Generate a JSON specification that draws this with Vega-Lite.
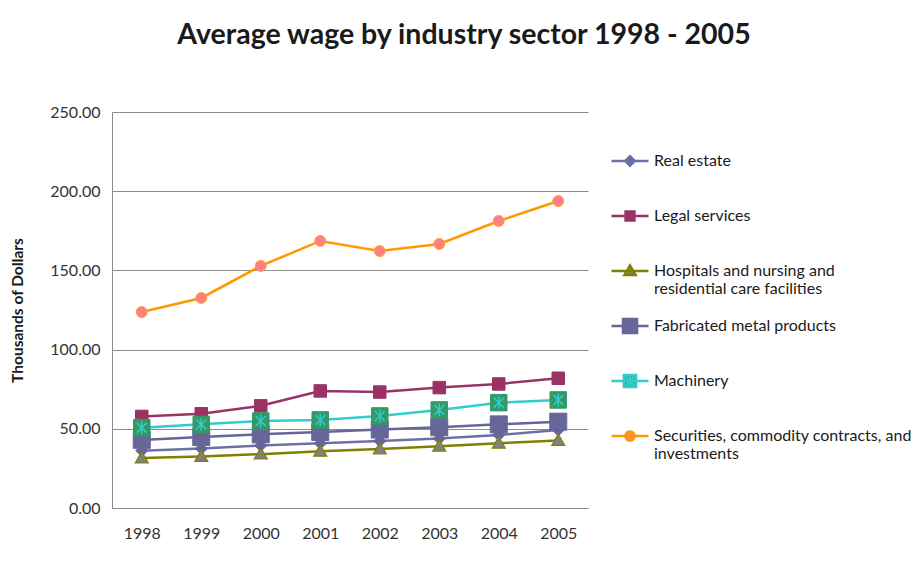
{
  "$schema": "https://vega.github.io/schema/vega-lite/v6.json",
  "autosize": {"type": "none"},
  "width": 476,
  "height": 396,
  "padding": {"left": 112, "top": 112, "right": 334, "bottom": 56},
  "background": "white",
  "title": {
    "text": "Average wage by industry sector 1998 - 2005",
    "font": "Lato",
    "fontSize": 28.5,
    "fontWeight": "bold",
    "color": "#1a1a1a",
    "anchor": "middle",
    "dx": 114,
    "baseline": "alphabetic",
    "offset": 32
  },
  "data": {
    "values": [
      {"year": "1998", "series": "Real estate", "value": 36.2},
      {"year": "1999", "series": "Real estate", "value": 37.5},
      {"year": "2000", "series": "Real estate", "value": 39.4},
      {"year": "2001", "series": "Real estate", "value": 40.8},
      {"year": "2002", "series": "Real estate", "value": 42.3},
      {"year": "2003", "series": "Real estate", "value": 43.8},
      {"year": "2004", "series": "Real estate", "value": 46.1},
      {"year": "2005", "series": "Real estate", "value": 49.2},
      {"year": "1998", "series": "Legal services", "value": 57.8},
      {"year": "1999", "series": "Legal services", "value": 59.5},
      {"year": "2000", "series": "Legal services", "value": 64.5},
      {"year": "2001", "series": "Legal services", "value": 73.9},
      {"year": "2002", "series": "Legal services", "value": 73.2},
      {"year": "2003", "series": "Legal services", "value": 76.0},
      {"year": "2004", "series": "Legal services", "value": 78.3},
      {"year": "2005", "series": "Legal services", "value": 81.9},
      {"year": "1998", "series": "Hospitals and nursing and residential care facilities", "value": 31.5},
      {"year": "1999", "series": "Hospitals and nursing and residential care facilities", "value": 32.5},
      {"year": "2000", "series": "Hospitals and nursing and residential care facilities", "value": 34.0},
      {"year": "2001", "series": "Hospitals and nursing and residential care facilities", "value": 35.8},
      {"year": "2002", "series": "Hospitals and nursing and residential care facilities", "value": 37.3},
      {"year": "2003", "series": "Hospitals and nursing and residential care facilities", "value": 39.0},
      {"year": "2004", "series": "Hospitals and nursing and residential care facilities", "value": 40.9},
      {"year": "2005", "series": "Hospitals and nursing and residential care facilities", "value": 42.6},
      {"year": "1998", "series": "Fabricated metal products", "value": 43.0},
      {"year": "1999", "series": "Fabricated metal products", "value": 44.8},
      {"year": "2000", "series": "Fabricated metal products", "value": 46.5},
      {"year": "2001", "series": "Fabricated metal products", "value": 48.0},
      {"year": "2002", "series": "Fabricated metal products", "value": 49.5},
      {"year": "2003", "series": "Fabricated metal products", "value": 51.0},
      {"year": "2004", "series": "Fabricated metal products", "value": 52.8},
      {"year": "2005", "series": "Fabricated metal products", "value": 54.5},
      {"year": "1998", "series": "Machinery", "value": 50.7},
      {"year": "1999", "series": "Machinery", "value": 52.8},
      {"year": "2000", "series": "Machinery", "value": 54.9},
      {"year": "2001", "series": "Machinery", "value": 55.6},
      {"year": "2002", "series": "Machinery", "value": 58.1},
      {"year": "2003", "series": "Machinery", "value": 61.9},
      {"year": "2004", "series": "Machinery", "value": 66.5},
      {"year": "2005", "series": "Machinery", "value": 68.2},
      {"year": "1998", "series": "Securities, commodity contracts, and investments", "value": 123.7},
      {"year": "1999", "series": "Securities, commodity contracts, and investments", "value": 132.6},
      {"year": "2000", "series": "Securities, commodity contracts, and investments", "value": 152.8},
      {"year": "2001", "series": "Securities, commodity contracts, and investments", "value": 168.6},
      {"year": "2002", "series": "Securities, commodity contracts, and investments", "value": 162.2},
      {"year": "2003", "series": "Securities, commodity contracts, and investments", "value": 166.7},
      {"year": "2004", "series": "Securities, commodity contracts, and investments", "value": 181.2},
      {"year": "2005", "series": "Securities, commodity contracts, and investments", "value": 193.8}
    ]
  },
  "encoding": {
    "x": {
      "field": "year", "type": "ordinal",
      "scale": {"type": "point", "padding": 0.5},
      "axis": {"title": null, "labelAngle": 0, "ticks": false, "domainColor": "#8c8c8c", "labelPadding": 17, "labelFont": "Lato", "labelFontSize": 16, "labelColor": "#333333"}
    },
    "y": {
      "field": "value", "type": "quantitative",
      "scale": {"domain": [0, 250], "nice": false},
      "axis": {"title": "Thousands of Dollars", "values": [0, 50, 100, 150, 200, 250], "format": ".2f", "ticks": false, "grid": true, "gridColor": "#8c8c8c", "domainColor": "#8c8c8c", "labelPadding": 12, "labelFont": "Lato", "labelFontSize": 16, "labelColor": "#333333", "titleFont": "Lato", "titleFontSize": 15.5, "titleFontWeight": "bold", "titleColor": "#1a1a1a", "titlePadding": 24}
    }
  },
  "layer": [
    {
      "transform": [{"filter": "datum.series == 'Real estate'"}],
      "mark": {"type": "line", "strokeWidth": 2.5, "stroke": "#6f6fa8"},
      "encoding": {}
    },
    {
      "transform": [{"filter": "datum.series == 'Real estate'"}],
      "mark": {"type": "point", "shape": "M0,-1L1,0L0,1L-1,0Z", "size": 144, "filled": true, "fill": "#666699", "stroke": "#666699", "strokeWidth": 1, "opacity": 1}
    },
    {
      "transform": [{"filter": "datum.series == 'Legal services'"}],
      "mark": {"type": "line", "strokeWidth": 2.5, "stroke": "#993366"},
      "encoding": {}
    },
    {
      "transform": [{"filter": "datum.series == 'Legal services'"}],
      "mark": {"type": "point", "shape": "square", "size": 156, "filled": true, "fill": "#993366", "stroke": "#993366", "strokeWidth": 1, "opacity": 1}
    },
    {
      "transform": [{"filter": "datum.series == 'Hospitals and nursing and residential care facilities'"}],
      "mark": {"type": "line", "strokeWidth": 2.5, "stroke": "#808000"},
      "encoding": {}
    },
    {
      "transform": [{"filter": "datum.series == 'Hospitals and nursing and residential care facilities'"}],
      "mark": {"type": "point", "shape": "M0,-1L1,0.75L-1,0.75Z", "size": 169, "filled": true, "fill": "#808080", "stroke": "#808000", "strokeWidth": 1.2, "opacity": 1}
    },
    {
      "transform": [{"filter": "datum.series == 'Fabricated metal products'"}],
      "mark": {"type": "line", "strokeWidth": 2.5, "stroke": "#666699"},
      "encoding": {}
    },
    {
      "transform": [{"filter": "datum.series == 'Fabricated metal products'"}],
      "mark": {"type": "point", "shape": "square", "size": 289, "filled": true, "fill": "#666699", "stroke": "#666699", "strokeWidth": 1, "opacity": 1}
    },
    {
      "transform": [{"filter": "datum.series == 'Machinery'"}],
      "mark": {"type": "line", "strokeWidth": 2.5, "stroke": "#33cccc"},
      "encoding": {}
    },
    {
      "transform": [{"filter": "datum.series == 'Machinery'"}],
      "mark": {"type": "point", "shape": "square", "size": 272, "filled": true, "fill": "#339966", "stroke": "#339966", "strokeWidth": 1, "opacity": 1}
    },
    {
      "transform": [{"filter": "datum.series == 'Machinery'"}],
      "mark": {"type": "point", "shape": "M-0.6,-0.6L0.6,0.6M0.6,-0.6L-0.6,0.6M0,-0.78L0,0.78", "size": 272, "filled": false, "stroke": "#33cccc", "strokeWidth": 1.5, "opacity": 1}
    },
    {
      "transform": [{"filter": "datum.series == 'Securities, commodity contracts, and investments'"}],
      "mark": {"type": "line", "strokeWidth": 2.5, "stroke": "#ff9900"},
      "encoding": {}
    },
    {
      "transform": [{"filter": "datum.series == 'Securities, commodity contracts, and investments'"}],
      "mark": {"type": "point", "shape": "circle", "size": 121, "filled": true, "fill": "#ff8080", "stroke": "#ffa040", "strokeWidth": 1, "opacity": 1}
    },
    {
      "mark": {"type": "point", "filled": true, "opacity": 0},
      "encoding": {
        "shape": {
          "field": "series", "type": "nominal",
          "scale": {
            "domain": ["Real estate", "Legal services", "Hospitals and nursing and residential care facilities", "Fabricated metal products", "Machinery", "Securities, commodity contracts, and investments"],
            "range": [
              "M-1,0H1M0,-0.26L0.26,0L0,0.26L-0.26,0Z",
              "M-1,0H1M-0.24,-0.24H0.24V0.24H-0.24Z",
              "M-1,0H1M0,-0.3L0.3,0.22L-0.3,0.22Z",
              "M-1,0H1M-0.38,-0.38H0.38V0.38H-0.38Z",
              "M-1,0H1M-0.33,-0.33H0.33V0.33H-0.33ZM-0.22,-0.22L0.22,0.22M0.22,-0.22L-0.22,0.22M0,-0.3V0.3",
              "M-1,0H1M0.25,0A0.25,0.25,0,1,1,-0.25,0A0.25,0.25,0,1,1,0.25,0Z"
            ]
          },
          "legend": {
            "orient": "none",
            "legendX": 498,
            "legendY": 29,
            "title": null,
            "symbolSize": 1369,
            "symbolStrokeWidth": 2.5,
            "symbolOpacity": 1,
            "rowPadding": 9,
            "labelOffset": 4,
            "labelLimit": 320,
            "labelFont": "Lato",
            "labelFontSize": 16,
            "labelColor": "#1a1a1a",
            "labelExpr": "datum.label == 'Hospitals and nursing and residential care facilities' ? ['Hospitals and nursing and', 'residential care facilities'] : datum.label == 'Securities, commodity contracts, and investments' ? ['Securities, commodity contracts, and', 'investments'] : [datum.label, '']"
          }
        },
        "fill": {
          "field": "series", "type": "nominal",
          "scale": {
            "domain": ["Real estate", "Legal services", "Hospitals and nursing and residential care facilities", "Fabricated metal products", "Machinery", "Securities, commodity contracts, and investments"],
            "range": ["#666699", "#993366", "#808080", "#666699", "#339966", "#ff8080"]
          }
        },
        "stroke": {
          "field": "series", "type": "nominal",
          "scale": {
            "domain": ["Real estate", "Legal services", "Hospitals and nursing and residential care facilities", "Fabricated metal products", "Machinery", "Securities, commodity contracts, and investments"],
            "range": ["#6f6fa8", "#993366", "#808000", "#666699", "#33cccc", "#ff9900"]
          }
        }
      }
    }
  ],
  "config": {
    "view": {"stroke": null},
    "font": "Lato"
  }
}
